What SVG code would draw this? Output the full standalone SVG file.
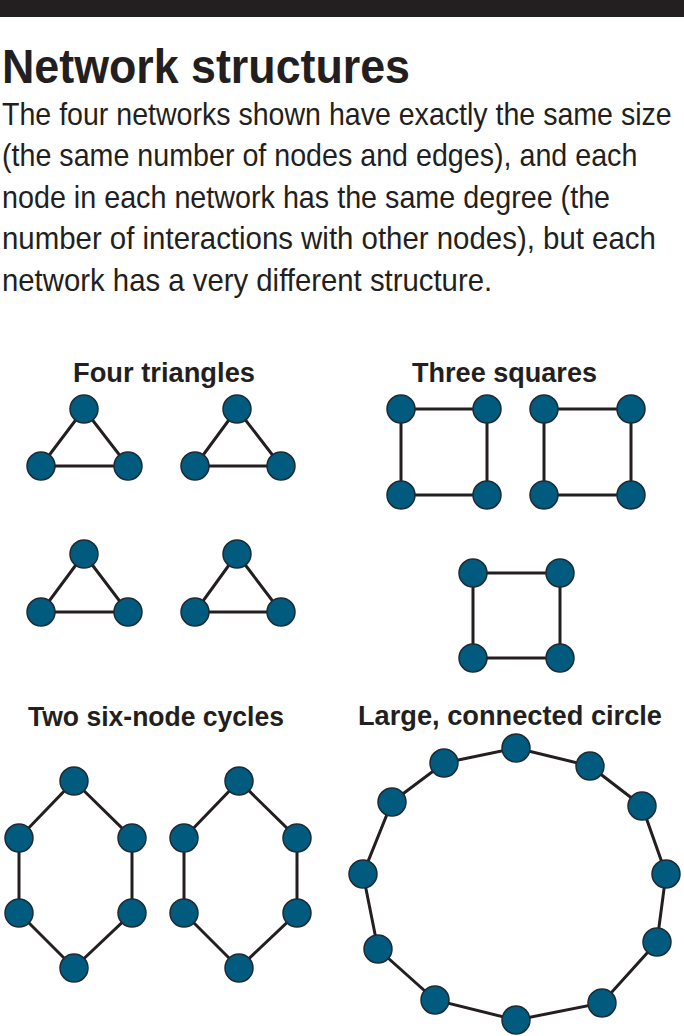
<svg xmlns="http://www.w3.org/2000/svg" width="684" height="1036" viewBox="0 0 684 1036">
<style>
.title{font-family:"Liberation Sans",Arial,sans-serif;font-weight:bold;font-size:48px;fill:#231f20}
.body{font-family:"Liberation Sans",Arial,sans-serif;font-size:31px;fill:#231f20}
.head{font-family:"Liberation Sans",Arial,sans-serif;font-weight:bold;font-size:27px;fill:#231f20;text-anchor:middle}
.edge{stroke:#231f20;stroke-width:3;fill:none}
.node{fill:#005b7f;stroke:#1f2b33;stroke-width:1.5}
</style>
<defs><circle id="n" r="14"/></defs>
<rect x="0" y="0" width="684" height="17" fill="#231f20"/>
<text class="title" x="2" y="83" textLength="408" lengthAdjust="spacingAndGlyphs">Network structures</text>
<g id="intro">
<text class="body" transform="translate(2,124.5) scale(0.88,1)" textLength="761" lengthAdjust="spacingAndGlyphs">The four networks shown have exactly the same size</text>
<text class="body" transform="translate(2,166) scale(0.88,1)" textLength="722" lengthAdjust="spacingAndGlyphs">(the same number of nodes and edges), and each</text>
<text class="body" transform="translate(2,207.5) scale(0.88,1)" textLength="691" lengthAdjust="spacingAndGlyphs">node in each network has the same degree (the</text>
<text class="body" transform="translate(2,249) scale(0.88,1)" textLength="743" lengthAdjust="spacingAndGlyphs">number of interactions with other nodes), but each</text>
<text class="body" transform="translate(2,290.5) scale(0.88,1)" textLength="557" lengthAdjust="spacingAndGlyphs">network has a very different structure.</text>
</g>
<g id="headings">
<text class="head" x="164" y="382" textLength="182" lengthAdjust="spacingAndGlyphs">Four triangles</text>
<text class="head" x="504.5" y="382" textLength="185" lengthAdjust="spacingAndGlyphs">Three squares</text>
<text class="head" x="156" y="726" textLength="256" lengthAdjust="spacingAndGlyphs">Two six-node cycles</text>
<text class="head" x="510" y="725" textLength="304" lengthAdjust="spacingAndGlyphs">Large, connected circle</text>
</g>
<g id="connectors" class="edge">
<polygon points="84,409 41,466 128,466"/>
<polygon points="237,409 195,466 281,466"/>
<polygon points="84,554 41,612 128,612"/>
<polygon points="237,554 195,612 281,612"/>
<polygon points="401,409 487,409 487,495 401,495"/>
<polygon points="544,409 631,409 631,495 544,495"/>
<polygon points="473,573 560,573 560,658 473,658"/>
<polygon points="74,781 132,838 132,913 74,968 19,913 19,838"/>
<polygon points="239,781 297,838 297,913 239,968 184,913 184,838"/>
<polygon points="516,748 590,766 642,806 666,874 657,942 602,1003 516,1020 435,1000 378,949 363,874 392,802 444,763"/>
</g>
<g id="triangles" class="node">
<use href="#n" x="84" y="409"/><use href="#n" x="41" y="466"/><use href="#n" x="128" y="466"/>
<use href="#n" x="237" y="409"/><use href="#n" x="195" y="466"/><use href="#n" x="281" y="466"/>
<use href="#n" x="84" y="554"/><use href="#n" x="41" y="612"/><use href="#n" x="128" y="612"/>
<use href="#n" x="237" y="554"/><use href="#n" x="195" y="612"/><use href="#n" x="281" y="612"/>
</g>
<g id="squares" class="node">
<use href="#n" x="401" y="409"/><use href="#n" x="487" y="409"/><use href="#n" x="487" y="495"/><use href="#n" x="401" y="495"/>
<use href="#n" x="544" y="409"/><use href="#n" x="631" y="409"/><use href="#n" x="631" y="495"/><use href="#n" x="544" y="495"/>
<use href="#n" x="473" y="573"/><use href="#n" x="560" y="573"/><use href="#n" x="560" y="658"/><use href="#n" x="473" y="658"/>
</g>
<g id="cycles" class="node">
<use href="#n" x="74" y="781"/><use href="#n" x="132" y="838"/><use href="#n" x="132" y="913"/><use href="#n" x="74" y="968"/><use href="#n" x="19" y="913"/><use href="#n" x="19" y="838"/>
<use href="#n" x="239" y="781"/><use href="#n" x="297" y="838"/><use href="#n" x="297" y="913"/><use href="#n" x="239" y="968"/><use href="#n" x="184" y="913"/><use href="#n" x="184" y="838"/>
</g>
<g id="circle" class="node">
<use href="#n" x="516" y="748"/><use href="#n" x="590" y="766"/><use href="#n" x="642" y="806"/><use href="#n" x="666" y="874"/><use href="#n" x="657" y="942"/><use href="#n" x="602" y="1003"/><use href="#n" x="516" y="1020"/><use href="#n" x="435" y="1000"/><use href="#n" x="378" y="949"/><use href="#n" x="363" y="874"/><use href="#n" x="392" y="802"/><use href="#n" x="444" y="763"/>
</g>
</svg>
